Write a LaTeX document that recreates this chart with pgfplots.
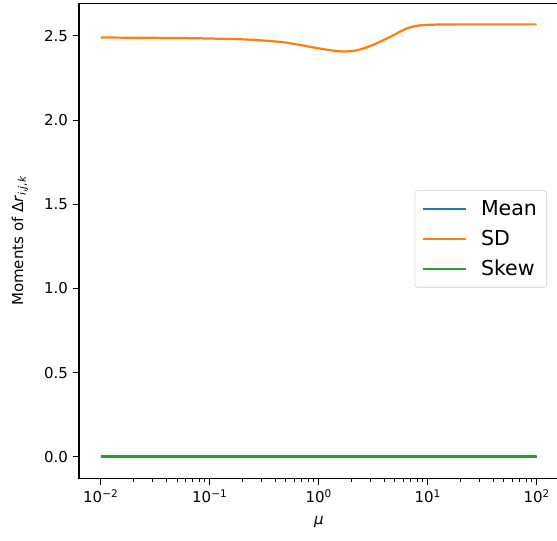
\documentclass[border=0pt]{standalone}
\usepackage{pgfplots}
\pgfplotsset{compat=1.18}
\usepackage{fontspec}
\setmainfont{DejaVu Sans}
\definecolor{mplblue}{HTML}{1F77B4}
\definecolor{mplorange}{HTML}{FF7F0E}
\definecolor{mplgreen}{HTML}{2CA02C}
\begin{document}
\begin{tikzpicture}
\begin{axis}[
    name=ax,
    scale only axis,
    width=345.2pt, height=342pt,
    xmode=log,
    xmin=0.00631, xmax=158.5,
    ymin=-0.128, ymax=2.693,
    xtick={0.01,0.1,1,10,100},
    xticklabels={10\textsuperscript{−2},10\textsuperscript{−1},10\textsuperscript{0},10\textsuperscript{1},10\textsuperscript{2}},
    ytick={0,0.5,1,1.5,2,2.5},
    yticklabel style={/pgf/number format/.cd, fixed, fixed zerofill, precision=1, assume math mode=true},
    tick label style={font=\fontsize{10.8}{13}\selectfont},
    label style={font=\fontsize{10.8}{13}\selectfont},
    tick align=outside,
    tick pos=left,
    major tick length=4.5pt,
    minor tick length=2.5pt,
    axis line style={line width=0.8pt},
    every tick/.style={black, line width=0.7pt},
    xlabel={\textit{μ}},
    xlabel style={yshift=-3pt},
    ylabel={Moments of Δ\textit{r}\textsubscript{\textit{i},\textit{j},\textit{k}}},
    ylabel style={at={(axis description cs:-0.096,0.5)}, anchor=south},
    legend style={at={(axis description cs:0.976,0.504)}, anchor=east,
        draw=black!20, rounded corners=2pt, font=\fontsize{14.8}{17}\selectfont,
        row sep=5pt, inner xsep=5pt, inner ysep=5pt},
    legend cell align=left,
    legend image code/.code={\draw[#1] (0pt,0pt) -- (31pt,0pt); \path (39pt,0pt);},
]
\addplot[mplblue, line width=1.6pt] coordinates {
    (0.01,-0.002) (0.1,-0.002) (1,-0.002) (10,-0.002) (100,-0.002)
};
\addlegendentry{Mean}
\addplot[mplorange, line width=1.6pt, smooth] coordinates {
    (0.01,2.490) (0.03162,2.488) (0.0537,2.487) (0.1,2.484)
    (0.2188,2.478) (0.4416,2.464) (0.631,2.449) (0.891,2.431)
    (1.259,2.415) (1.683,2.407) (2.138,2.412) (2.564,2.425)
    (3.162,2.447) (4.207,2.484) (5.248,2.516) (6.412,2.544)
    (7.586,2.557) (9.12,2.564) (12.59,2.567) (19.95,2.568) (100,2.568)
};
\addlegendentry{SD}
\addplot[mplgreen, line width=1.6pt] coordinates {
    (0.01,0.003) (0.1,0.003) (1,0.003) (5,0.004) (10,0.003) (100,0.003)
};
\addlegendentry{Skew}
\end{axis}
\pgfresetboundingbox
\path[use as bounding box] (ax.south west) ++(-56.9pt,-44.4pt) rectangle ++(401pt,388.8pt);
\end{tikzpicture}
\end{document}
